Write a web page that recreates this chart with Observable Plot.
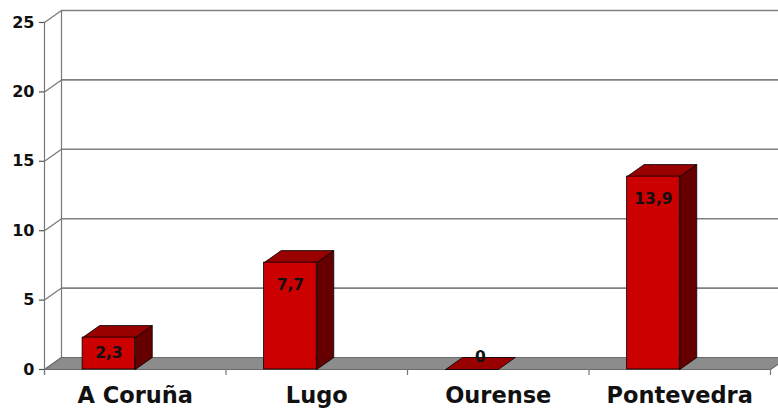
<!DOCTYPE html>
<html><head><meta charset="utf-8">
<script src="https://cdn.jsdelivr.net/npm/d3@7"></script>
<script src="https://cdn.jsdelivr.net/npm/@observablehq/plot@0.6"></script>
<style>body{margin:0;background:#fff} svg{display:block;overflow:visible}</style>
</head><body><div id="chart"></div>
<script>
const categories = ["A Coruña", "Lugo", "Ourense", "Pontevedra"];
const values = [2.3, 7.7, 0, 13.9];
const yTicks = [0, 5, 10, 15, 20, 25];
const xBounds = [0, 1, 2, 3, 4];

const W = 778, H = 414, mL = 44, mR = 8, mT = 22, mB = 45;
const pxX = (W - mL - mR) / 4;
const pxY = (H - mT - mB) / 25;
const DDX = 17 / pxX, DDY = 12 / pxY;   // 3D depth offset in data units
const B0 = 0.21, B1 = 0.50;             // bar front face within category band
const fmt = v => String(v).replace(".", ",");

const data = categories.map((c, i) => ({c, i, v: values[i]}));
const poly = (pts, z) => pts.concat([pts[0]]).map(([x, y]) => ({x, y, z}));
const tops = data.flatMap(d => {
  const a = d.i + B0, b = d.i + B1;
  return poly([[a, d.v], [b, d.v], [b + DDX, d.v + DDY], [a + DDX, d.v + DDY]], d.c);
});
const sides = data.filter(d => d.v > 0).flatMap(d => {
  const b = d.i + B1;
  return poly([[b, 0], [b, d.v], [b + DDX, d.v + DDY], [b + DDX, DDY]], d.c);
});
const floor = poly([[0, 0], [4, 0], [4 + DDX, DDY], [DDX, DDY]], "floor");
const nonzero = data.filter(d => d.v > 0);

const chart = Plot.plot({
  width: W, height: H,
  marginLeft: mL, marginRight: mR, marginTop: mT, marginBottom: mB,
  style: {fontFamily: "DejaVu Sans, Verdana, sans-serif", background: "#fff"},
  x: {type: "linear", domain: [0, 4], axis: null},
  y: {type: "linear", domain: [0, 25], axis: null},
  marks: [
    // back wall gridlines
    Plot.ruleY(yTicks.filter(t => t > 0), {x1: 0, x2: 4.1, dx: 17, dy: -12, stroke: "#808080", strokeWidth: 1.6}),
    Plot.ruleX([0], {y1: 0, y2: 25, dx: 17, dy: -12, stroke: "#777", strokeWidth: 1.2}),
    // floor
    Plot.line(floor, {x: "x", y: "y", z: "z", fill: "#8c8c8c", stroke: "#6a6a6a", strokeWidth: 1.2}),
    // diagonal ticks
    Plot.link(yTicks, {x1: 0, y1: d => d, x2: DDX, y2: d => d + DDY, stroke: "#777", strokeWidth: 1.2}),
    // front axis
    Plot.ruleX([0], {y1: -6 / pxY, y2: 25, stroke: "#777", strokeWidth: 1.2}),
    Plot.ruleY(yTicks, {x1: -5 / pxX, x2: 0, stroke: "#555", strokeWidth: 1.2}),
    Plot.ruleX(xBounds, {y1: 0, y2: -6 / pxY, stroke: "#777", strokeWidth: 1.2}),
    // bars
    Plot.line(sides, {x: "x", y: "y", z: "z", fill: "#660000", stroke: "#000", strokeWidth: 0.8}),
    Plot.line(tops, {x: "x", y: "y", z: "z", fill: "#990000", stroke: "#000", strokeWidth: 0.8}),
    Plot.rect(nonzero, {x1: d => d.i + B0, x2: d => d.i + B1, y1: 0, y2: d => d.v, fill: "#cc0000", stroke: "#000", strokeWidth: 0.8}),
    // value labels
    Plot.text(data, {
      x: d => d.v > 0 ? d.i + (B0 + B1) / 2 : d.i + (B0 + B1) / 2 + DDX / 2,
      y: d => d.v > 0 ? Math.max(d.v - 22 / pxY, 16 / pxY) : DDY,
      text: d => fmt(d.v), fontSize: 15.5, fontWeight: "bold", fill: "#111"
    }),
    // y tick labels
    Plot.text(yTicks, {x: 0, y: d => d, text: d => String(d), dx: -10, textAnchor: "end", fontSize: 16, fontWeight: "bold", fill: "#111"}),
    // category labels
    Plot.text(data, {x: d => d.i + 0.5, y: 0, dy: 26, text: "c", fontSize: 22.5, fontWeight: "bold", fill: "#111"})
  ]
});
document.getElementById("chart").append(chart);
</script>
</body></html>
